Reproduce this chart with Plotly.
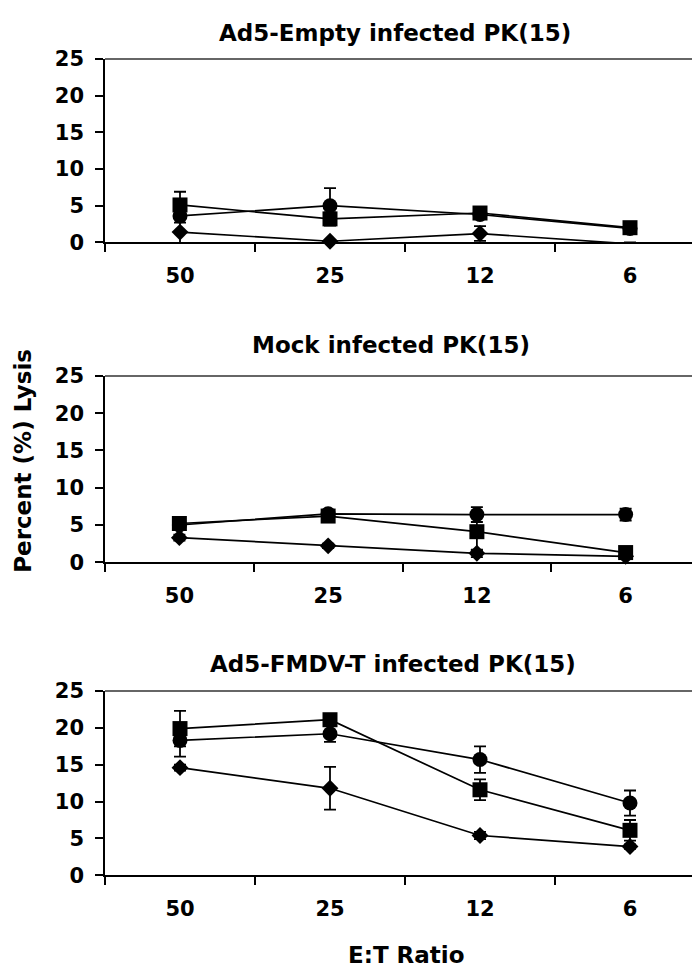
import plotly.graph_objects as go

W, H = 700, 970

categories = ["50", "25", "12", "6"]
panel_titles = ["Ad5-Empty infected PK(15)", "Mock infected PK(15)", "Ad5-FMDV-T infected PK(15)"]
y_ticks = [0, 5, 10, 15, 20, 25]

# Panel 1: Ad5-Empty infected PK(15)
p1_square = [5.1, 3.2, 4.0, 2.0]
p1_square_err = [1.8, 0.9, 0.5, 0.5]
p1_circle = [3.6, 5.0, 3.8, 1.9]
p1_circle_err = [0.9, 2.4, 0.4, 0.3]
p1_diamond = [1.4, 0.15, 1.2, -0.2]
p1_diamond_err = [1.9, 0.2, 1.0, 0.2]

# Panel 2: Mock infected PK(15)
p2_square = [5.2, 6.2, 4.1, 1.3]
p2_square_err = [0.5, 0.4, 2.5, 0.4]
p2_circle = [5.0, 6.5, 6.4, 6.4]
p2_circle_err = [0.4, 0.3, 1.0, 0.8]
p2_diamond = [3.3, 2.2, 1.2, 0.8]
p2_diamond_err = [0.4, 0.3, 0.5, 0.3]

# Panel 3: Ad5-FMDV-T infected PK(15)
p3_square = [19.9, 21.1, 11.6, 6.1]
p3_square_err = [2.4, 0.5, 1.4, 1.4]
p3_circle = [18.3, 19.2, 15.7, 9.8]
p3_circle_err = [2.2, 1.1, 1.8, 1.7]
p3_diamond = [14.6, 11.8, 5.4, 3.9]
p3_diamond_err = [0.4, 2.9, 0.5, 0.3]

panels = [
    (p1_diamond, p1_diamond_err, p1_square, p1_square_err, p1_circle, p1_circle_err),
    (p2_diamond, p2_diamond_err, p2_square, p2_square_err, p2_circle, p2_circle_err),
    (p3_diamond, p3_diamond_err, p3_square, p3_square_err, p3_circle, p3_circle_err),
]

FONT = "DejaVu Sans"

# pixel geometry (top, bottom of plot areas), left/right
px_tb = [(40, 228), (365, 556), (688, 877)]
px_lr = [(97, 697), (97, 692), (97, 697)]


def px_to_x(p):
    return p / W


def px_to_y(p):
    return 1 - p / H


fig = go.Figure()

symbols = ["diamond", "square", "circle"]
sizes = [13, 15, 15]

for i, pdata in enumerate(panels):
    ax = "" if i == 0 else str(i + 1)
    for k in range(3):
        vals = pdata[2 * k]
        errs = pdata[2 * k + 1]
        fig.add_trace(go.Scatter(
            x=categories, y=vals,
            mode="lines+markers",
            line=dict(color="black", width=1.7),
            marker=dict(symbol=symbols[k], size=sizes[k], color="black"),
            error_y=dict(type="data", array=errs, visible=True, color="black",
                         thickness=1.8, width=6),
            cliponaxis=False,
            showlegend=False,
            xaxis="x" + ax, yaxis="y" + ax,
        ))

layout = dict(
    width=W, height=H,
    margin=dict(l=0, r=0, t=0, b=0),
    paper_bgcolor="white", plot_bgcolor="white",
    showlegend=False,
)

annotations = []
shapes = []
title_y = [13, 333, 660]
title_x = [387, 383, 385]
for i in range(3):
    ax = "" if i == 0 else str(i + 1)
    top, bot = px_tb[i]
    left, right = px_lr[i]
    layout["xaxis" + ax] = dict(
        domain=[px_to_x(left), px_to_x(right)],
        type="category", categoryorder="array", categoryarray=categories,
        range=[-0.5, 3.5],
        tickson="boundaries", ticks="outside", ticklen=8, tickcolor="black", tickwidth=1.5,
        showline=True, linecolor="black", linewidth=1.5,
        showgrid=False, zeroline=False,
        tickfont=dict(family=FONT, size=21, color="black", weight="bold"),
        ticklabelstandoff=14,
        anchor="y" + ax,
        fixedrange=True,
    )
    layout["yaxis" + ax] = dict(
        domain=[px_to_y(bot), px_to_y(top)],
        range=[0, 25], tickvals=y_ticks,
        ticks="outside", ticklen=8, tickcolor="black", tickwidth=1.5,
        showline=True, linecolor="black", linewidth=1.5,
        showgrid=False, zeroline=False,
        tickfont=dict(family=FONT, size=21, color="black", weight="bold"),
        ticklabelstandoff=7,
        anchor="x" + ax,
        fixedrange=True,
    )
    annotations.append(dict(
        text=panel_titles[i], x=px_to_x(title_x[i]), y=px_to_y(title_y[i]),
        xref="paper", yref="paper", xanchor="center", yanchor="middle",
        showarrow=False, font=dict(family=FONT, size=23, color="black", weight="bold"),
    ))
    # top line and right line of the frame
    if i != 1:
        shapes.append(dict(type="line", xref="paper", yref="paper",
                           x0=px_to_x(left), x1=px_to_x(right), y0=px_to_y(top), y1=px_to_y(top),
                           line=dict(color="#333333", width=1.5)))
        shapes.append(dict(type="line", xref="paper", yref="paper",
                           x0=px_to_x(right), x1=px_to_x(right), y0=px_to_y(top), y1=px_to_y(bot),
                           line=dict(color="#333333", width=1.5)))
    else:
        shapes.append(dict(type="line", xref="paper", yref="paper",
                           x0=px_to_x(left), x1=px_to_x(right - 3), y0=px_to_y(top), y1=px_to_y(top),
                           line=dict(color="#333333", width=1.5)))
        path = "M {a},{b} L {c},{b} L {c},{d} L {a},{d}".format(
            a=px_to_x(right - 3), b=px_to_y(360), c=px_to_x(right), d=px_to_y(550))
        shapes.append(dict(type="path", xref="paper", yref="paper", path=path,
                           line=dict(color="#444444", width=1.5)))

annotations.append(dict(
    text="Percent (%) Lysis", x=px_to_x(15), y=px_to_y(452),
    xref="paper", yref="paper", xanchor="center", yanchor="middle", textangle=-90,
    showarrow=False, font=dict(family=FONT, size=23, color="black", weight="bold"),
))
annotations.append(dict(
    text="E:T Ratio", x=px_to_x(399), y=px_to_y(959),
    xref="paper", yref="paper", xanchor="center", yanchor="middle",
    showarrow=False, font=dict(family=FONT, size=23, color="black", weight="bold"),
))

layout["annotations"] = annotations
layout["shapes"] = shapes
fig.update_layout(**layout)

fig.write_html("out.html")
